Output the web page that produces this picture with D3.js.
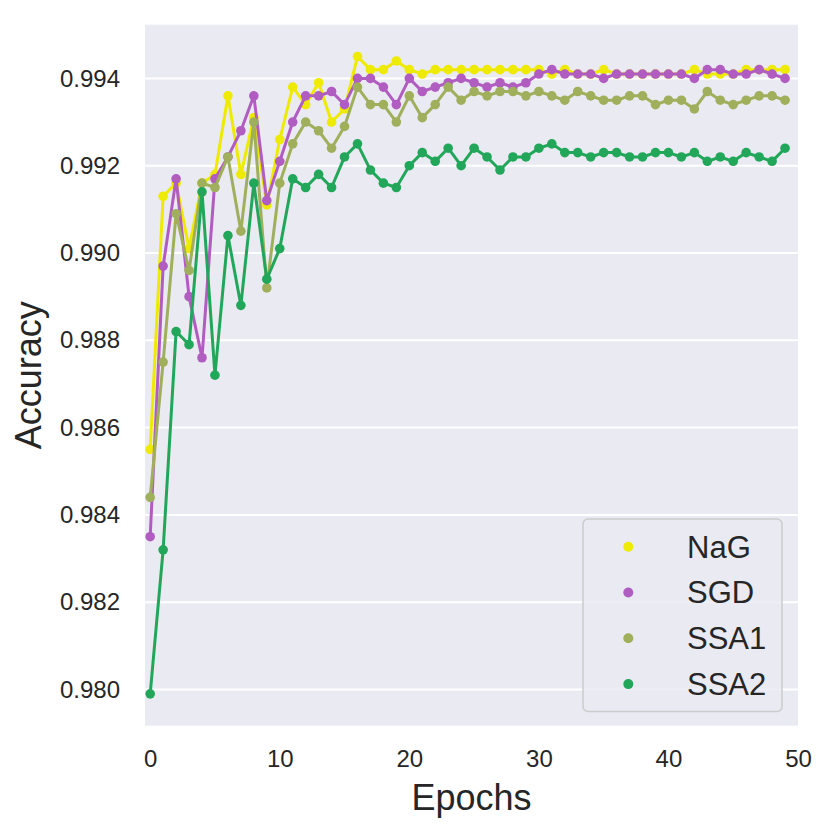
<!DOCTYPE html>
<html>
<head>
<meta charset="utf-8">
<script src="https://cdn.jsdelivr.net/npm/d3@7"></script>
<style>
  html, body { margin: 0; padding: 0; background: #ffffff; }
  svg text { font-family: "Liberation Sans", Arial, sans-serif; fill: #262626; }
</style>
</head>
<body>
<div id="chart"></div>
<script>
const seriesNames = ["NaG", "SGD", "SSA1", "SSA2"];
const seriesColors = ["#eeea00", "#b15cc1", "#9faf5b", "#22a75a"];

const nagAcc = [0.9855, 0.9913, 0.9916, 0.9901, 0.9916, 0.9918, 0.9936, 0.9918, 0.9931, 0.9911,
    0.9926, 0.9938, 0.9934, 0.9939, 0.9930, 0.9933, 0.9945, 0.9942, 0.9942, 0.9944,
    0.9942, 0.9941, 0.9942, 0.9942, 0.9942, 0.9942, 0.9942, 0.9942, 0.9942, 0.9942,
    0.9942, 0.9941, 0.9942, 0.9941, 0.9941, 0.9942, 0.9941, 0.9941, 0.9941, 0.9941,
    0.9941, 0.9941, 0.9942, 0.9941, 0.9941, 0.9941, 0.9942, 0.9942, 0.9942, 0.9942];
const sgdAcc = [0.9835, 0.9897, 0.9917, 0.9890, 0.9876, 0.9917, 0.9922, 0.9928, 0.9936, 0.9912,
    0.9921, 0.9930, 0.9936, 0.9936, 0.9937, 0.9934, 0.9940, 0.9940, 0.9938, 0.9934,
    0.9940, 0.9937, 0.9938, 0.9939, 0.9940, 0.9939, 0.9938, 0.9939, 0.9938, 0.9939,
    0.9941, 0.9942, 0.9941, 0.9941, 0.9941, 0.9940, 0.9941, 0.9941, 0.9941, 0.9941,
    0.9941, 0.9941, 0.9940, 0.9942, 0.9942, 0.9941, 0.9941, 0.9942, 0.9941, 0.9940];
const ssa1Acc = [0.9844, 0.9875, 0.9909, 0.9896, 0.9916, 0.9915, 0.9922, 0.9905, 0.9930, 0.9892,
    0.9916, 0.9925, 0.9930, 0.9928, 0.9924, 0.9929, 0.9938, 0.9934, 0.9934, 0.9930,
    0.9936, 0.9931, 0.9934, 0.9938, 0.9935, 0.9937, 0.9936, 0.9937, 0.9937, 0.9936,
    0.9937, 0.9936, 0.9935, 0.9937, 0.9936, 0.9935, 0.9935, 0.9936, 0.9936, 0.9934,
    0.9935, 0.9935, 0.9933, 0.9937, 0.9935, 0.9934, 0.9935, 0.9936, 0.9936, 0.9935];
const ssa2Acc = [0.9799, 0.9832, 0.9882, 0.9879, 0.9914, 0.9872, 0.9904, 0.9888, 0.9916, 0.9894,
    0.9901, 0.9917, 0.9915, 0.9918, 0.9915, 0.9922, 0.9925, 0.9919, 0.9916, 0.9915,
    0.9920, 0.9923, 0.9921, 0.9924, 0.9920, 0.9924, 0.9922, 0.9919, 0.9922, 0.9922,
    0.9924, 0.9925, 0.9923, 0.9923, 0.9922, 0.9923, 0.9923, 0.9922, 0.9922, 0.9923,
    0.9923, 0.9922, 0.9923, 0.9921, 0.9922, 0.9921, 0.9923, 0.9922, 0.9921, 0.9924];

const xTicks = [0, 10, 20, 30, 40, 50];
const yTicks = [0.980, 0.982, 0.984, 0.986, 0.988, 0.990, 0.992, 0.994];

const allSeries = [nagAcc, sgdAcc, ssa1Acc, ssa2Acc];

const width = 830, height = 830;
const margin = { top: 24.7, right: 32, bottom: 104.3, left: 145 };
const innerW = width - margin.left - margin.right;
const innerH = height - margin.top - margin.bottom;

const svg = d3.select("#chart").append("svg")
    .attr("width", width)
    .attr("height", height);

const g = svg.append("g")
    .attr("transform", `translate(${margin.left},${margin.top})`);

// matplotlib-like 5% padding on y
const yMin = d3.min(allSeries, s => d3.min(s));
const yMax = d3.max(allSeries, s => d3.max(s));
const pad = (yMax - yMin) * 0.05;

const x = d3.scaleLinear().domain([-0.4, 50]).range([0, innerW]);
const y = d3.scaleLinear().domain([yMin - pad, yMax + pad]).range([innerH, 0]);

g.append("rect")
    .attr("width", innerW)
    .attr("height", innerH)
    .attr("fill", "#eaeaf2");

// grid
g.selectAll("line.ygrid")
    .data(yTicks)
    .enter().append("line")
    .attr("class", "ygrid")
    .attr("x1", 0).attr("x2", innerW)
    .attr("y1", d => y(d)).attr("y2", d => y(d))
    .attr("stroke", "#ffffff")
    .attr("stroke-width", 2);

// axes (labels only, seaborn darkgrid style)
const yAxis = g.append("g")
    .call(d3.axisLeft(y).tickValues(yTicks).tickFormat(d3.format(".3f")).tickSize(0).tickPadding(25));
yAxis.select(".domain").remove();
yAxis.selectAll("text").style("font-size", "24px").attr("fill", "#262626");

const xAxis = g.append("g")
    .attr("transform", `translate(0,${innerH})`)
    .call(d3.axisBottom(x).tickValues(xTicks).tickSize(0).tickPadding(24));
xAxis.select(".domain").remove();
xAxis.selectAll("text").style("font-size", "24px").attr("fill", "#262626");

// lines + markers
const line = d3.line()
    .x((d, i) => x(i))
    .y(d => y(d));

allSeries.forEach((s, k) => {
    g.append("path")
        .datum(s)
        .attr("d", line)
        .attr("fill", "none")
        .attr("stroke", seriesColors[k])
        .attr("stroke-width", 3)
        .attr("stroke-linejoin", "round");

    g.selectAll(`circle.s${k}`)
        .data(s)
        .enter().append("circle")
        .attr("class", `s${k}`)
        .attr("cx", (d, i) => x(i))
        .attr("cy", d => y(d))
        .attr("r", 4.8)
        .attr("fill", seriesColors[k]);
});

// axis titles
svg.append("text")
    .attr("x", margin.left + innerW / 2)
    .attr("y", 810)
    .attr("text-anchor", "middle")
    .style("font-size", "36px")
    .text("Epochs");

svg.append("text")
    .attr("transform", `translate(41,${margin.top + innerH / 2}) rotate(-90)`)
    .attr("text-anchor", "middle")
    .style("font-size", "36px")
    .text("Accuracy");

// legend
const legend = svg.append("g");
legend.append("rect")
    .attr("x", 583).attr("y", 519)
    .attr("width", 199).attr("height", 192.5)
    .attr("rx", 5).attr("ry", 5)
    .attr("fill", "#eaeaf2").attr("fill-opacity", 0.8)
    .attr("stroke", "#cccccc").attr("stroke-width", 1.5);

const items = legend.selectAll("g.item")
    .data(seriesNames)
    .enter().append("g")
    .attr("class", "item")
    .attr("transform", (d, i) => `translate(0,${546.7 + i * 45.8})`);

items.append("circle")
    .attr("cx", 628.3)
    .attr("r", 5)
    .attr("fill", (d, i) => seriesColors[i]);

items.append("text")
    .attr("x", 687)
    .attr("dy", "0.35em")
    .style("font-size", "31px")
    .text(d => d);
</script>
</body>
</html>
